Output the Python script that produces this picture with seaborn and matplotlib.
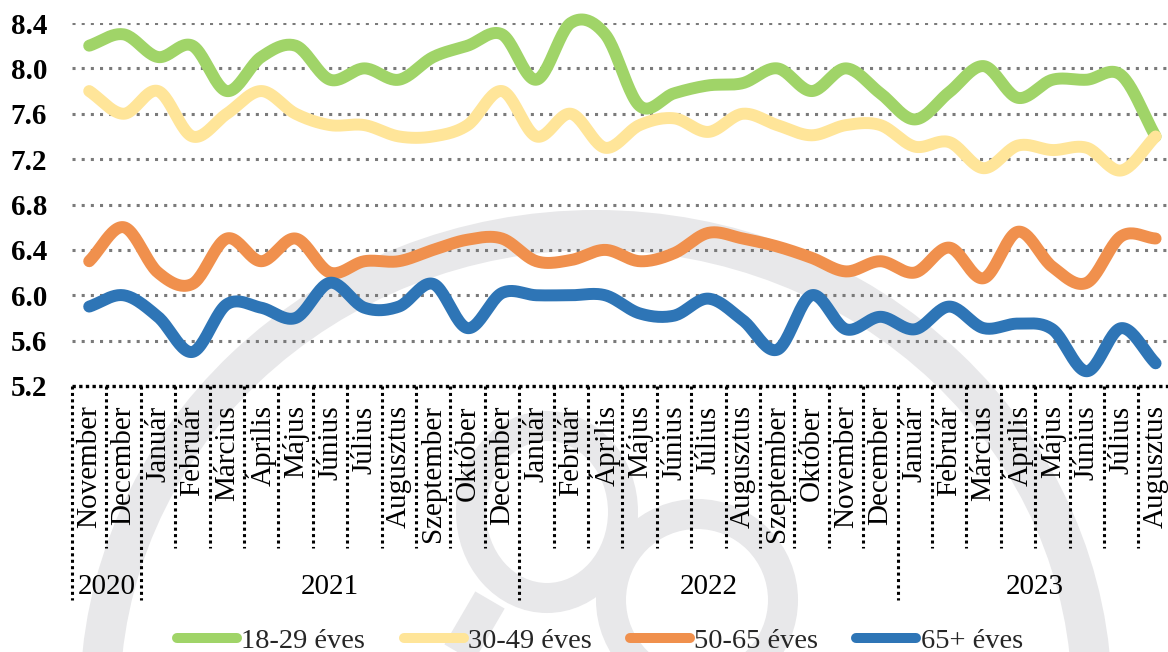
import numpy as np
import pandas as pd
import matplotlib
matplotlib.use("Agg")
import matplotlib.pyplot as plt
import matplotlib.transforms as mtransforms
from matplotlib.patches import Ellipse
from matplotlib.lines import Line2D
import seaborn as sns

# ---------------- data ----------------
months = ["November", "December",
          "Január", "Február", "Március", "Április", "Május", "Június", "Július",
          "Augusztus", "Szeptember", "Október", "December",
          "Január", "Február", "Április", "Május", "Június", "Július", "Augusztus",
          "Szeptember", "Október", "November", "December",
          "Január", "Február", "Március", "Április", "Május", "Június", "Július",
          "Augusztus"]
years = ["2020", "2021", "2022", "2023"]
year_counts = [2, 11, 11, 8]

series_names = ["18-29 éves", "30-49 éves", "50-65 éves", "65+ éves"]
g18_29 = [8.2, 8.3, 8.1, 8.2, 7.8, 8.1, 8.2, 7.9, 8.0, 7.9, 8.1, 8.2, 8.3,
          7.9, 8.4, 8.3, 7.67, 7.78, 7.85, 7.87, 8.0, 7.8, 8.0, 7.78,
          7.55, 7.79, 8.02, 7.74, 7.9, 7.9, 7.94, 7.4]
g30_49 = [7.8, 7.6, 7.8, 7.4, 7.6, 7.8, 7.6, 7.5, 7.5, 7.4, 7.4, 7.5, 7.8,
          7.4, 7.6, 7.3, 7.5, 7.56, 7.44, 7.6, 7.5, 7.41, 7.5, 7.5,
          7.31, 7.35, 7.12, 7.32, 7.28, 7.3, 7.1, 7.4]
g50_65 = [6.3, 6.6, 6.2, 6.1, 6.5, 6.3, 6.5, 6.2, 6.3, 6.3, 6.4, 6.49, 6.5,
          6.3, 6.31, 6.4, 6.3, 6.37, 6.55, 6.5, 6.43, 6.33, 6.21, 6.3,
          6.2, 6.42, 6.15, 6.56, 6.25, 6.11, 6.52, 6.5]
g65 = [5.9, 6.0, 5.81, 5.5, 5.92, 5.89, 5.8, 6.11, 5.89, 5.9, 6.1, 5.71, 6.02,
       6.0, 6.0, 6.0, 5.84, 5.82, 5.97, 5.78, 5.52, 6.0, 5.7, 5.81,
       5.7, 5.9, 5.71, 5.75, 5.7, 5.33, 5.71, 5.4]
colors = ["#a0d468", "#ffe599", "#f0904d", "#2e75b6"]
yticks = [5.2, 5.6, 6.0, 6.4, 6.8, 7.2, 7.6, 8.0, 8.4]


def smooth(values, n=24):
    """Catmull-Rom style curve through the points (Excel 'smoothed line')."""
    p = np.asarray(values, dtype=float)
    k = len(p)
    m = np.empty(k)
    m[1:-1] = (p[2:] - p[:-2]) / 2.0
    m[0] = p[1] - p[0]
    m[-1] = p[-1] - p[-2]
    xs, ys = [], []
    for i in range(k - 1):
        t = np.linspace(0, 1, n, endpoint=(i == k - 2))
        h00 = 2 * t**3 - 3 * t**2 + 1
        h10 = t**3 - 2 * t**2 + t
        h01 = -2 * t**3 + 3 * t**2
        h11 = t**3 - t**2
        ys.append(h00 * p[i] + h10 * m[i] + h01 * p[i + 1] + h11 * m[i + 1])
        xs.append(i + t)
    return np.concatenate(xs), np.concatenate(ys)


frames = []
for name, vals in zip(series_names, [g18_29, g30_49, g50_65, g65]):
    sx, sy = smooth(vals)
    frames.append(pd.DataFrame({"x": sx, "y": sy, "series": name}))
df = pd.concat(frames, ignore_index=True)

# ---------------- figure ----------------
sns.set_theme(style="white")
plt.rcParams['font.family'] = ['Liberation Serif', 'DejaVu Serif']

W, H = 1168, 652
fig = plt.figure(figsize=(W / 100, H / 100), dpi=100)
fig.patch.set_facecolor("white")

# watermark (light gray logo in the background)
bg = fig.add_axes([0, 0, 1, 1], zorder=0)
bg.set_xlim(0, W)
bg.set_ylim(H, 0)
bg.axis("off")
wm = "#e8e8ea"
px = 0.72  # pixels -> points
bg.add_patch(Ellipse((596, 700), 2 * 496, 2 * 470, fill=False, ec=wm, lw=40 * px))
bg.add_patch(Ellipse((547, 512), 2 * 76, 2 * 86, fill=False, ec=wm, lw=30 * px))
bg.add_patch(Ellipse((697, 600), 2 * 86, 2 * 86, fill=False, ec=wm, lw=30 * px))
bg.plot([490, 455], [600, 660], color=wm, lw=34 * px, solid_capstyle="butt")

# main axes
left, right, top, bottom = 72, 72 + 32 * 34.4, 23, 386
ax = fig.add_axes([left / W, 1 - bottom / H, (right - left) / W, (bottom - top) / H], zorder=1)
ax.patch.set_alpha(0)

for v in yticks[1:]:
    ax.axhline(v, color="#7a7a7a", lw=2.2, ls=(0, (1, 2.0)), zorder=0.5)
ax.axhline(5.2, color="black", lw=2.4, ls=(0, (1, 1.0)), zorder=0.6, clip_on=False)

sns.lineplot(data=df, x="x", y="y", hue="series", palette=colors, hue_order=series_names,
             linewidth=8.6, ax=ax, legend=False, sort=False, estimator=None)
for ln in ax.lines:
    if ln.get_linewidth() > 8:
        ln.set_solid_capstyle("round")
        ln.set_solid_joinstyle("round")
        ln.set_clip_on(False)
        ln.set_zorder(2)

ax.set_xlim(-0.5, 31.5)
ax.set_ylim(5.2, 8.4)
ax.set_xlabel("")
ax.set_ylabel("")
for s in ax.spines.values():
    s.set_visible(False)

ax.set_yticks(yticks)
ax.set_yticklabels([f"{v:.1f}" for v in yticks], fontsize=21, fontweight="bold")
ax.set_xticks(range(len(months)))
ax.set_xticklabels(months, rotation=90, fontsize=21)
ax.tick_params(axis="x", length=0, pad=14, colors="black")
ax.tick_params(axis="y", length=0, pad=18, colors="black")

# category separators and year groups
trans = mtransforms.blended_transform_factory(ax.transData, ax.transAxes)
bounds = np.cumsum([0] + year_counts)
for i in range(len(months) + 1):
    is_year = i in bounds
    yb = -0.59 if is_year else -0.446
    ax.plot([i - 0.5, i - 0.5], [0, yb], transform=trans, color="black", lw=2.2,
            ls=(0, (1, 1.1)), clip_on=False, zorder=1)
for yr, a, b in zip(years, bounds[:-1], bounds[1:]):
    ax.text((a + b - 1) / 2, -0.554, yr, transform=trans, ha="center", va="center",
            fontsize=21, color="black")

handles = [Line2D([0], [0], color=c, lw=7.2, solid_capstyle="round") for c in colors]
fig.legend(handles, series_names, loc="center", bbox_to_anchor=(600 / W, 1 - 641 / H),
           ncol=4, frameon=False, fontsize=20.5, handlelength=2.1, handletextpad=0.15,
           columnspacing=1.35, borderaxespad=0)

fig.savefig("out.png", dpi=100)
